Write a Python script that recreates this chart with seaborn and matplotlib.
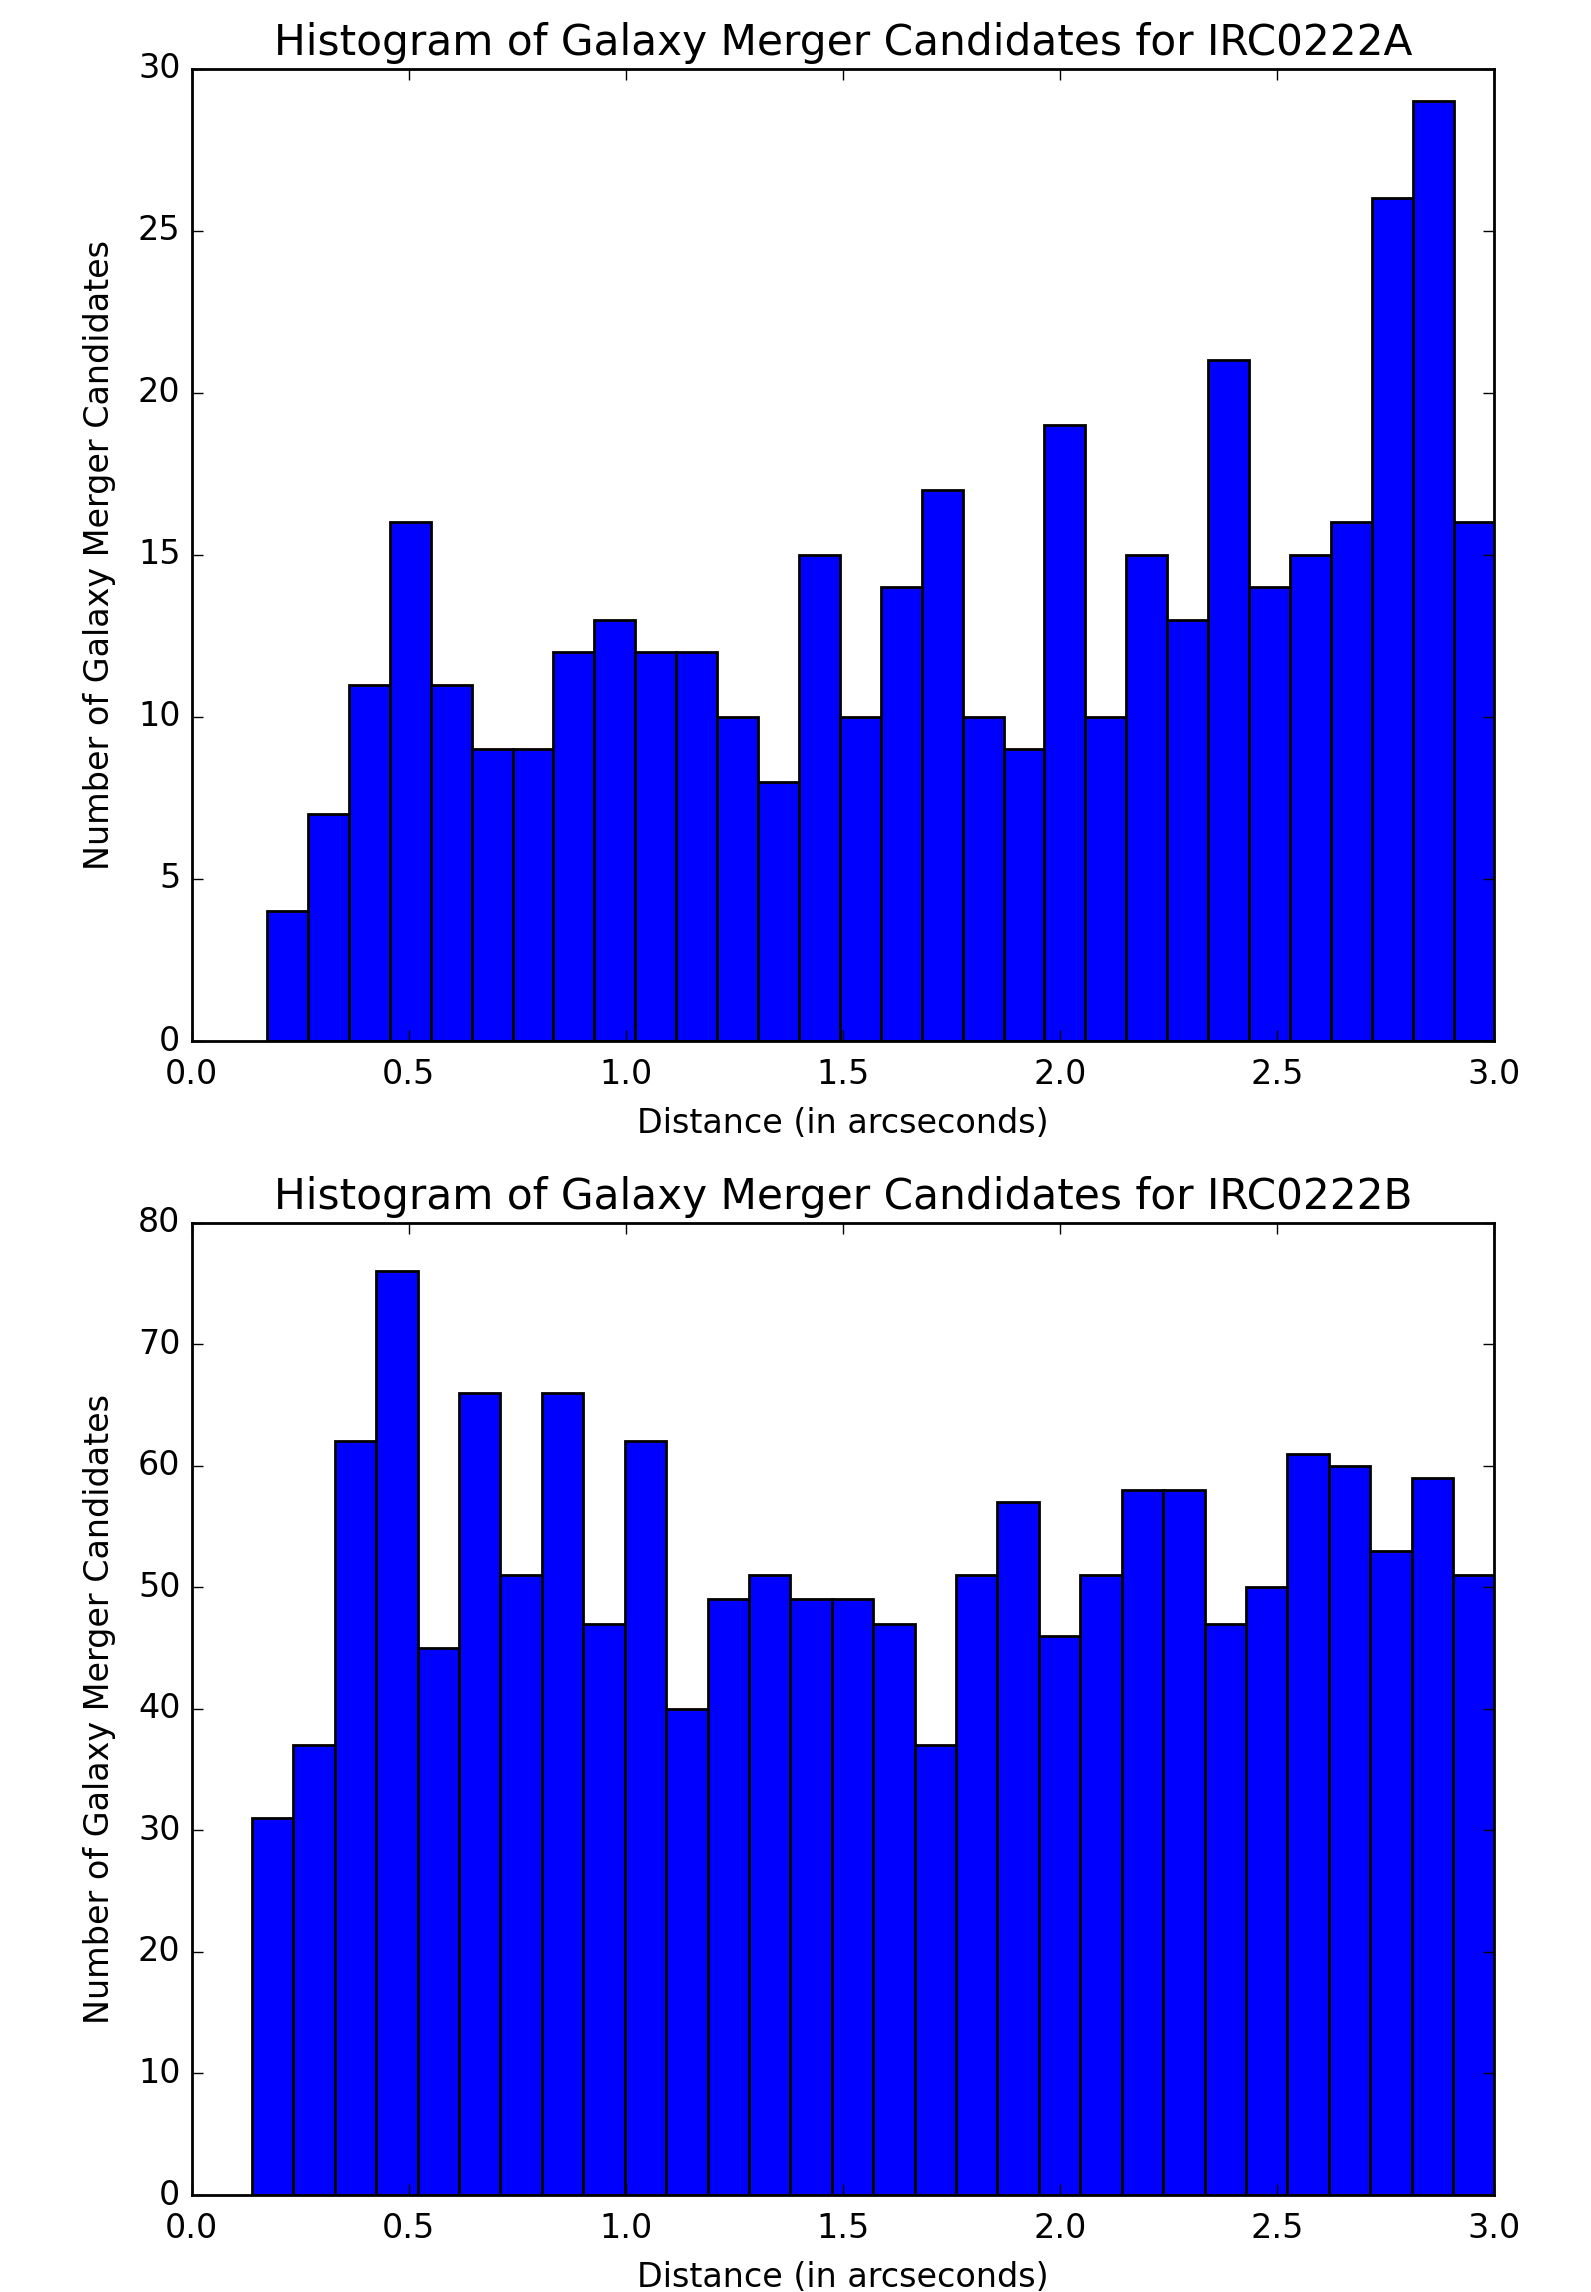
import numpy as np
import pandas as pd
import matplotlib
matplotlib.use("Agg")
import matplotlib.pyplot as plt
import seaborn as sns

# ---- data ----
counts_a = [4, 7, 11, 16, 11, 9, 9, 12, 13, 12, 12, 10, 8, 15, 10,
            14, 17, 10, 9, 19, 10, 15, 13, 21, 14, 15, 16, 26, 29, 16]
counts_b = [31, 37, 62, 76, 45, 66, 51, 66, 47, 62, 40, 49, 51, 49, 49,
            47, 37, 51, 57, 46, 51, 58, 58, 47, 50, 61, 60, 53, 59, 51]
range_a = (0.174, 3.0)
range_b = (0.139, 3.0)
title_a = "Histogram of Galaxy Merger Candidates for IRC0222A"
title_b = "Histogram of Galaxy Merger Candidates for IRC0222B"
xlabel = "Distance (in arcseconds)"
ylabel = "Number of Galaxy Merger Candidates"
xticks = [0.0, 0.5, 1.0, 1.5, 2.0, 2.5, 3.0]
yticks_a = [0, 5, 10, 15, 20, 25, 30]
yticks_b = [0, 10, 20, 30, 40, 50, 60, 70, 80]

plt.style.use("classic")
plt.rcParams["font.family"] = ["DejaVu Sans"]
plt.rcParams["figure.facecolor"] = "white"
plt.rcParams["savefig.facecolor"] = "white"

fig = plt.figure(figsize=(7.955, 11.46), dpi=200)
ax1 = fig.add_axes([0.1204, 0.5458, 0.8189, 0.4242])
ax2 = fig.add_axes([0.1204, 0.0423, 0.8189, 0.4243])


def draw(ax, counts, rng, title, yticks):
    nbins = len(counts)
    width = (rng[1] - rng[0]) / nbins
    centers = rng[0] + width * (np.arange(nbins) + 0.5)
    df = pd.DataFrame({"dist": centers, "n": np.asarray(counts, dtype=float)})
    sns.histplot(data=df, x="dist", weights="n", bins=nbins, binrange=rng,
                 color="#0000ff", edgecolor="black", linewidth=1.0,
                 alpha=1.0, ax=ax)
    ax.set_xlim(0, 3.0)
    ax.set_ylim(yticks[0], yticks[-1])
    ax.set_xticks(xticks)
    ax.set_xticklabels([f"{t:.1f}" for t in xticks])
    ax.set_yticks(yticks)
    ax.set_title(title, fontsize=15.2, pad=5)
    ax.set_xlabel(xlabel, fontsize=12, labelpad=5.5)
    ax.set_ylabel(ylabel, fontsize=12, labelpad=8)
    ax.tick_params(direction="in", top=True, right=True, labelsize=12)
    ax.tick_params(axis="x", pad=6.2)


draw(ax1, counts_a, range_a, title_a, yticks_a)
draw(ax2, counts_b, range_b, title_b, yticks_b)

fig.savefig("out.png", dpi=200)
